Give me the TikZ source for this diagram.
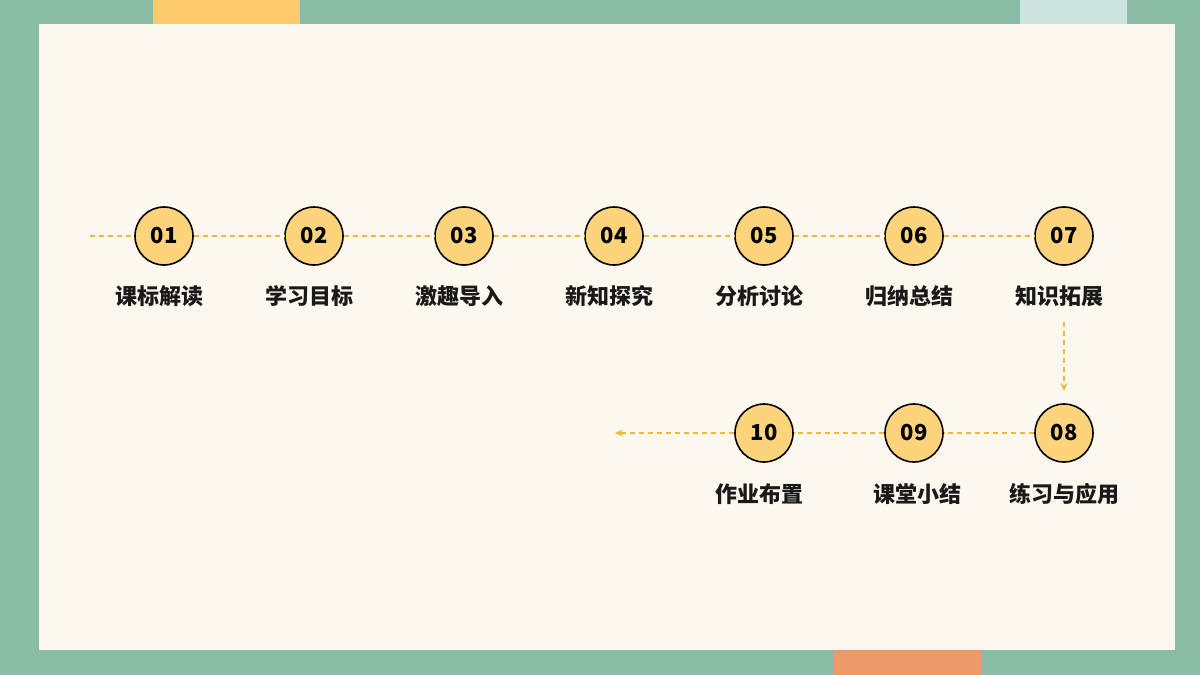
\documentclass[tikz,border=0pt]{standalone}
\usepackage{fontspec}
\newfontfamily\cjk{Noto Sans CJK SC}
\usetikzlibrary{arrows.meta,calc}
\definecolor{bggreen}{HTML}{88BCA4}
\definecolor{cream}{HTML}{FDF8EE}
\definecolor{topyellow}{HTML}{FDCB6B}
\definecolor{topblue}{HTML}{CDE3E0}
\definecolor{botorange}{HTML}{EC9A68}
\definecolor{circ}{HTML}{FDD47C}
\definecolor{dashcol}{HTML}{F0B840}
\tikzset{x=1pt,y=-1pt,
 num/.style={circle,draw=black,line width=1.6pt,fill=circ,minimum size=58pt,inner sep=0pt,font=\cjk\bfseries\fontsize{22}{22}\selectfont},
 lab/.style={font=\cjk\bfseries\fontsize{22}{22}\selectfont,text=black!90},
 link/.style={draw=dashcol,line width=1.1pt,dash pattern=on 5pt off 4pt}}
\begin{document}
\begin{tikzpicture}
\fill[bggreen] (0,0) rectangle (1200,675);
\fill[topyellow] (153,0) rectangle (300,24);
\fill[topblue] (1020,0) rectangle (1127,24);
\fill[botorange] (834,650) rectangle (981,675);
\fill[cream] (39,24) rectangle (1175,650);
\coordinate (s) at (90,236);
\coordinate (e) at (615,433);
\foreach \i/\x/\t in {1/164/课标解读,2/314/学习目标,3/464/激趣导入,4/614/新知探究,5/764/分析讨论,6/914/归纳总结,7/1064/知识拓展}{
 \node[num] (n\i) at (\x,236) {0\i};
 \node[lab] (l\i) at (\x-5,296) {\t};
}
\node[num] (n8) at (1064,433) {08};
\node[num] (n9) at (914,433) {09};
\node[num] (n10) at (764,433) {10};
\node[lab] (l8) at (1064,494) {练习与应用};
\node[lab] (l9) at (917,494) {课堂小结};
\node[lab] (l10) at (759,494) {作业布置};
\draw[link] (s) -- (n1);
\foreach \a/\b in {1/2,2/3,3/4,4/5,5/6,6/7,8/9,9/10}{\draw[link] (n\a) -- (n\b);}
\draw[link,-{Stealth[length=8pt,width=7pt]}] ($(l7.south -| n7)+(0,12)$) -- ($(n8.north)+(0,-12)$);
\draw[link,-{Stealth[length=8pt,width=7pt]}] (n10) -- (e);
\end{tikzpicture}
\end{document}
